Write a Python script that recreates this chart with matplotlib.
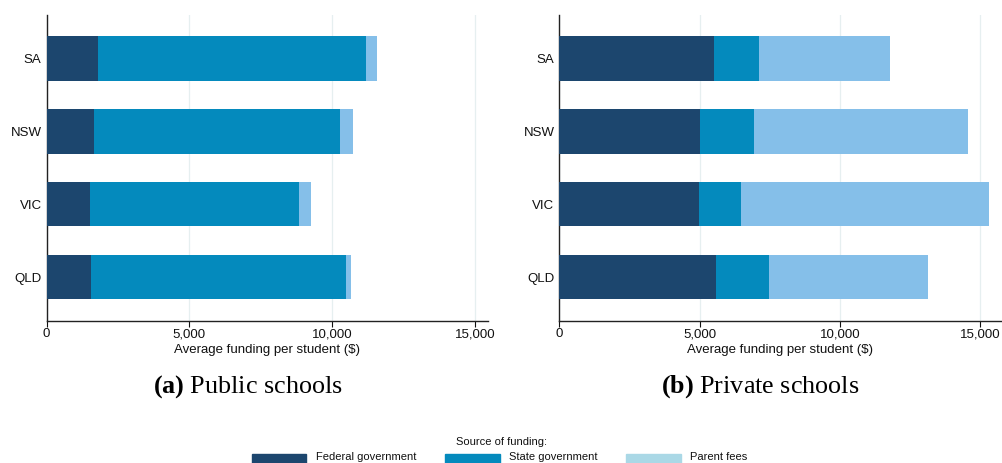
import matplotlib
matplotlib.use("Agg")
import matplotlib.pyplot as plt
from matplotlib.patches import Rectangle
from matplotlib.ticker import FuncFormatter

states = ["QLD", "VIC", "NSW", "SA"]
# Public schools
pub_federal = [1556, 1521, 1661, 1811]
pub_state = [8918, 7309, 8603, 9386]
pub_fees = [198, 443, 466, 385]
# Private schools
priv_federal = [5596, 4986, 4998, 5499]
priv_state = [1889, 1490, 1952, 1618]
priv_fees = [5656, 8838, 7602, 4656]

series_labels = ["Federal government", "State government", "Parent fees"]
colors = ["#1c466e", "#048abd", "#85bfe9"]
legend_colors = ["#1c466e", "#048abd", "#aad8e6"]
xticks = [0, 5000, 10000, 15000]

W, H = 1003, 463
plt.rcParams['font.family'] = ['Liberation Sans', 'DejaVu Sans']
plt.rcParams['mathtext.fontset'] = 'custom'
plt.rcParams['mathtext.bf'] = 'Liberation Serif:bold'
plt.rcParams['mathtext.rm'] = 'Liberation Serif'
fig = plt.figure(figsize=(W / 100, H / 100), dpi=100)

def px_axes(x0, x1, y0, y1):
    return fig.add_axes([x0 / W, 1 - y1 / H, (x1 - x0) / W, (y1 - y0) / H])

ax1 = px_axes(46.5, 488, 15, 320.7)
ax2 = px_axes(559.3, 1000.7, 15, 320.7)

def draw(ax, fed, st, fee, xmax):
    y = list(range(len(states)))
    ax.barh(y, fed, height=0.61, color=colors[0], zorder=3)
    ax.barh(y, st, left=fed, height=0.61, color=colors[1], zorder=3)
    left3 = [a + b for a, b in zip(fed, st)]
    ax.barh(y, fee, left=left3, height=0.61, color=colors[2], zorder=3)
    ax.set_yticks(y)
    ax.set_yticklabels(states)
    ax.set_ylim(-0.6, 3.6)
    ax.set_xlim(0, xmax)
    ax.set_xticks(xticks)
    ax.xaxis.set_major_formatter(FuncFormatter(lambda v, p: f"{int(v):,}"))
    ax.grid(axis="x", color="#e6eff0", linewidth=0.9, zorder=0)
    ax.set_axisbelow(True)
    for s in ["top", "right"]:
        ax.spines[s].set_visible(False)
    for s in ["left", "bottom"]:
        ax.spines[s].set_linewidth(1.0)
        ax.spines[s].set_color("#222222")
    ax.tick_params(axis="y", length=0, pad=3.5, labelsize=9.5, colors="#111111")
    ax.tick_params(axis="x", length=4, width=0.8, pad=1.5, labelsize=9.5, colors="#111111")
    ax.set_xlabel("Average funding per student ($)", fontsize=9.5, labelpad=2.5, color="#111111")

draw(ax1, pub_federal, pub_state, pub_fees, 15450)
draw(ax2, priv_federal, priv_state, priv_fees, 15720)

serif = ['Liberation Serif', 'DejaVu Serif']
def caption(xc, letter, text):
    fig.text(xc / W, 1 - 393 / H, r"$\mathbf{(" + letter + r")}$" + " " + text,
             fontsize=18.8, family=serif, ha="center", va="baseline")

caption(248, "a", "Public schools")
caption(760.5, "b", "Private schools")

# Legend
fig.text(502 / W, 1 - 442 / H, "Source of funding:", fontsize=8, ha="center", va="center",
         color="#111111")
patch_x = [251.7, 445, 626]
text_x = [315.6, 509, 690]
for px, tx, c, lab in zip(patch_x, text_x, legend_colors, series_labels):
    fig.add_artist(Rectangle((px / W, 0), 54.7 / W, (463 - 453.7) / H, transform=fig.transFigure,
                             color=c, clip_on=False))
    fig.text(tx / W, 1 - 456.5 / H, lab, fontsize=8, ha="left", va="center", color="#111111")

fig.savefig("out.png", dpi=100)
